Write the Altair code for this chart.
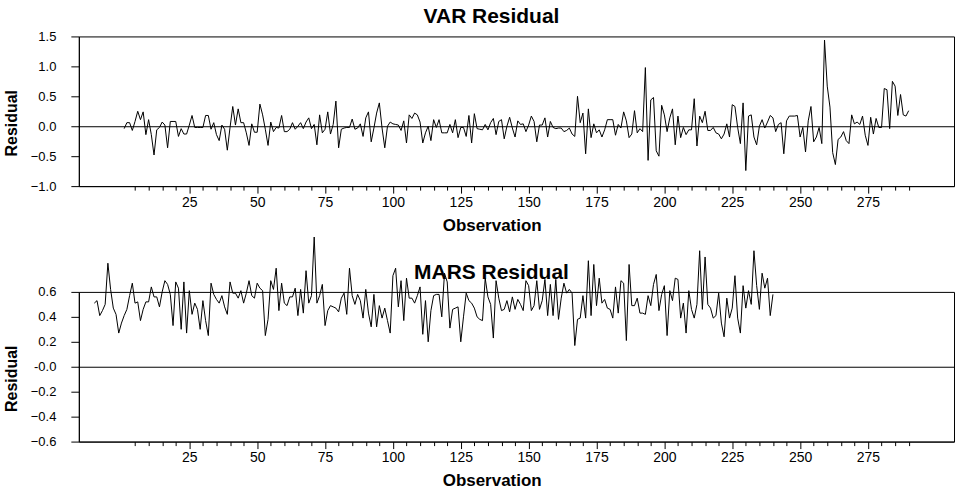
import altair as alt
import pandas as pd

# VAR residuals, observations 1..290
var_resid = [
    -0.04, 0.06, 0.06, -0.07, 0.08, 0.25, 0.11, 0.24, -0.14, 0.11,
    -0.14, -0.48, -0.06, -0.02, 0.07, 0.02, -0.36, 0.08, 0.08, 0.08,
    -0.17, -0.04, -0.13, -0.13, 0.02, 0.18, -0.02, -0.02, -0.02, -0.02,
    0.18, 0.18, -0.05, 0.06, -0.14, -0.24, 0.02, -0.05, -0.40, -0.02,
    0.33, 0.02, 0.29, 0.06, 0.06, -0.11, -0.32, 0.04, -0.10, -0.10,
    0.37, 0.19, -0.05, -0.32, 0.07, -0.09, -0.02, -0.03, 0.18, -0.09,
    -0.09, -0.05, 0.06, -0.05, 0.00, 0.06, -0.04, 0.07, 0.14, -0.04,
    0.03, -0.31, 0.19, -0.11, -0.05, 0.24, -0.13, 0.03, 0.42, -0.36,
    -0.05, -0.03, -0.02, -0.02, 0.12, -0.05, -0.03, 0.04, -0.17, 0.14,
    0.24, -0.26, -0.03, 0.22, 0.39, -0.03, -0.36, 0.00, 0.07, 0.04,
    0.03, 0.02, -0.07, 0.09, -0.28, 0.19, 0.13, 0.22, 0.19, 0.07,
    -0.28, -0.11, 0.00, -0.24, 0.11, -0.02, 0.11, -0.11, -0.11, -0.11,
    0.03, -0.11, 0.11, -0.19, -0.02, -0.02, -0.17, 0.18, -0.28, 0.21,
    -0.04, -0.05, -0.06, 0.03, -0.06, 0.06, 0.13, -0.14, 0.08, 0.11,
    -0.21, 0.00, 0.15, -0.03, -0.18, 0.09, 0.03, 0.04, -0.09, 0.02,
    0.17, 0.08, -0.26, 0.02, 0.02, 0.14, -0.18, 0.08, -0.02, -0.04,
    -0.03, -0.03, -0.09, -0.07, -0.03, -0.13, -0.17, 0.50, 0.06, 0.22,
    -0.46, 0.29, -0.19, 0.04, -0.11, -0.06, -0.18, -0.06, 0.11, 0.11,
    0.11, -0.15, 0.03, -0.03, 0.24, 0.09, -0.19, -0.13, 0.26, -0.11,
    -0.04, -0.09, 0.98, -0.57, 0.44, 0.48, -0.41, -0.50, 0.35, 0.19,
    -0.09, 0.14, 0.29, -0.31, 0.17, -0.19, -0.02, -0.14, -0.06, -0.06,
    0.46, -0.33, 0.17, 0.06, 0.25, -0.07, -0.07, -0.02, -0.11, -0.13,
    -0.21, -0.13, 0.04, -0.18, 0.36, 0.33, -0.02, -0.29, 0.39, -0.74,
    0.17, 0.19, -0.18, -0.31, 0.00, 0.11, -0.03, 0.07, 0.18, 0.14,
    -0.09, 0.03, 0.06, -0.46, 0.09, 0.17, 0.17, 0.17, 0.18, -0.18,
    -0.02, -0.43, 0.09, 0.33, -0.26, -0.18, -0.02, -0.29, 1.44, 0.67,
    0.32, -0.44, -0.64, -0.22, -0.18, -0.09, -0.24, -0.29, 0.19, 0.04,
    0.07, 0.03, 0.17, -0.15, -0.32, 0.15, -0.13, 0.13, -0.02, -0.02,
    0.63, 0.61, -0.04, 0.75, 0.67, 0.18, 0.53, 0.19, 0.17, 0.26,
]

# MARS residuals, observations -10..240
mars_resid = [
    0.51, 0.53, 0.41, 0.45, 0.50, 0.83, 0.62, 0.47, 0.42, 0.27,
    0.35, 0.41, 0.46, 0.57, 0.67, 0.51, 0.52, 0.37, 0.46, 0.52,
    0.52, 0.64, 0.56, 0.56, 0.48, 0.60, 0.69, 0.66, 0.58, 0.33,
    0.68, 0.63, 0.30, 0.68, 0.27, 0.61, 0.42, 0.51, 0.46, 0.30,
    0.53, 0.37, 0.25, 0.67, 0.58, 0.54, 0.51, 0.57, 0.48, 0.42,
    0.68, 0.59, 0.59, 0.55, 0.61, 0.51, 0.59, 0.69, 0.57, 0.55,
    0.67, 0.63, 0.61, 0.25, 0.38, 0.69, 0.62, 0.79, 0.45, 0.67,
    0.51, 0.49, 0.56, 0.56, 0.63, 0.41, 0.62, 0.43, 0.77, 0.51,
    0.57, 1.04, 0.51, 0.57, 0.66, 0.33, 0.45, 0.49, 0.48, 0.47,
    0.44, 0.55, 0.59, 0.42, 0.79, 0.57, 0.50, 0.58, 0.53, 0.39,
    0.62, 0.43, 0.32, 0.58, 0.32, 0.49, 0.39, 0.47, 0.37, 0.27,
    0.73, 0.79, 0.48, 0.69, 0.37, 0.71, 0.55, 0.55, 0.51, 0.57,
    0.64, 0.26, 0.53, 0.20, 0.45, 0.57, 0.58, 0.58, 0.40, 0.75,
    0.68, 0.31, 0.46, 0.47, 0.48, 0.20, 0.40, 0.59, 0.53, 0.51,
    0.47, 0.40,
    0.38, 0.37, 0.71, 0.56, 0.50, 0.23, 0.69, 0.55, 0.45, 0.46,
    0.53, 0.44, 0.56, 0.46, 0.54, 0.50, 0.45, 0.69, 0.65, 0.45,
    0.49, 0.69, 0.46, 0.53, 0.70, 0.41, 0.66, 0.41,
    0.70, 0.38, 0.55, 0.67, 0.59, 0.62, 0.59, 0.17, 0.38, 0.39,
    0.57, 0.39, 0.85, 0.41, 0.82, 0.49, 0.71, 0.51, 0.54, 0.47,
    0.46, 0.39, 0.64, 0.43, 0.69, 0.67, 0.21, 0.82, 0.49, 0.49,
    0.55, 0.43, 0.43, 0.42, 0.57, 0.49, 0.66, 0.74, 0.45, 0.58,
    0.65, 0.25, 0.61, 0.53, 0.71, 0.70, 0.39, 0.51, 0.27, 0.61,
    0.46, 0.39, 0.50, 0.93, 0.46, 0.88, 0.50, 0.47, 0.39, 0.41,
    0.59, 0.35, 0.24, 0.55, 0.39, 0.47, 0.73, 0.39, 0.27, 0.65,
    0.47, 0.61, 0.50, 0.93, 0.65, 0.46, 0.75, 0.63, 0.71, 0.41,
    0.58,
]

VAR_FIRST_OBS = 1
MARS_FIRST_OBS = -10

x_tick_values = list(range(5, 295, 5))
var_y_ticks = [-1.0, -0.5, 0.0, 0.5, 1.0, 1.5]
mars_y_ticks = [-0.6, -0.4, -0.2, 0.0, 0.2, 0.4, 0.6]
x_domain = [-15.7, 306.7]
zero_level = [0.0]

FONT = "Liberation Sans"


def panel(values, first, title, ydomain, yticks, ylabel_expr, title_offset):
    df = pd.DataFrame({
        "Observation": list(range(first, first + len(values))),
        "Residual": values,
    })
    x = alt.X(
        "Observation:Q",
        scale=alt.Scale(domain=x_domain, nice=False, zero=False),
        axis=alt.Axis(
            values=x_tick_values,
            tickCount=500,
            format="d",
            labelExpr="(datum.value % 25 === 0 && datum.value <= 275) ? datum.label : ''",
            tickSize={"condition": {"test": "datum.value % 25 === 0", "value": 7}, "value": 4},
            labelOverlap=False,
            labelFlush=False,
            labelPadding=2,
            labelFontSize=14,
            title="Observation",
            titleX=413.7,
            titleY=44,
            titleBaseline="alphabetic",
            titleFontSize=17,
            titleFontWeight="bold",
        ),
    )
    y = alt.Y(
        "Residual:Q",
        scale=alt.Scale(domain=ydomain, nice=False, zero=False),
        axis=alt.Axis(
            values=yticks,
            tickCount=100,
            labelExpr=ylabel_expr,
            labelOverlap=False,
            labelFlush=False,
            tickSize=8,
            labelPadding=15,
            labelFontSize=13,
            title="Residual",
            titleX=-59,
            titleY=86.5,
            titleBaseline="bottom",
            titleFontSize=16,
            titleFontWeight="bold",
        ),
    )
    line = alt.Chart(df).mark_line(color="black", strokeWidth=1).encode(x=x, y=y)
    zero = alt.Chart(pd.DataFrame({"level": zero_level})).mark_rule(
        color="black", strokeWidth=1, yOffset=0.5
    ).encode(y=alt.Y("level:Q"))
    return alt.layer(line, zero).properties(
        width=877,
        height=150,
        title=alt.TitleParams(
            text=title,
            font=FONT,
            fontSize=21,
            fontWeight="bold",
            color="black",
            anchor="middle",
            frame="group",
            dx=-25,
            offset=title_offset,
            baseline="alphabetic",
        ),
    )


top = panel(var_resid, VAR_FIRST_OBS, "VAR Residual", [-1.0, 1.5], var_y_ticks,
            "format(datum.value, '.1f')", -13.5)
bottom = panel(mars_resid, MARS_FIRST_OBS, "MARS Residual", [-0.6, 0.6], mars_y_ticks,
               "datum.value === 0 ? '-0.0' : format(datum.value, '.1f')", -65.5)

chart = alt.vconcat(top, bottom, spacing=106, bounds="flush").properties(
    padding={"left": 3, "top": 5, "right": 6, "bottom": 2},
).configure_axis(
    labelFont=FONT,
    titleFont=FONT,
    labelColor="black",
    titleColor="black",
    domainColor="black",
    tickColor="black",
    grid=False,
).configure_view(
    stroke="black",
    strokeWidth=1,
)

chart.save("out.html", embed_options={"renderer": "svg", "actions": False})
